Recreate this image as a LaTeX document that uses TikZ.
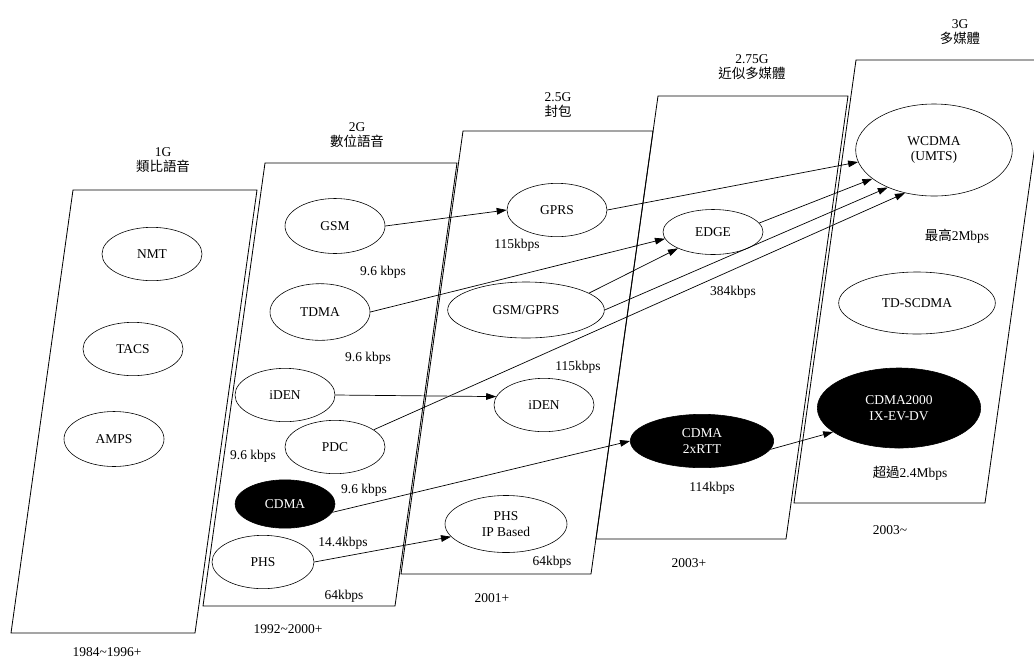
\documentclass[tikz,border=0pt]{standalone}
\usepackage{fontspec}
\setmainfont{Liberation Serif}
\newfontfamily\cjk{Noto Sans CJK TC}
\usetikzlibrary{positioning, shapes.geometric, arrows.meta}

\begin{document}
\begin{tikzpicture}[
  x=0.03cm, y=-0.03cm,
  font=\fontsize{11.5}{13}\selectfont,
  panel/.style={draw, line width=0.7pt},
  net/.style={ellipse, draw, fill=white, line width=0.5pt, inner sep=0pt, align=center,
              minimum width=3cm, minimum height=1.6cm},
  dark/.style={net, fill=black, text=white},
  rate/.style={inner sep=0pt},
  era/.style={align=center, inner sep=0pt},
  link/.style={-{Triangle[length=3mm, width=2mm]}, line width=0.6pt}
]
\useasboundingbox (0,0) rectangle (1034,661);
\clip (0,0) rectangle (1034,661);

% one slanted panel per generation
\foreach \x/\y/\w in {73/190/184, 265/163/192, 463/131/190, 658/96/190, 856/60/191}
  \draw[panel] (\x,\y) -- ++(\w,0) -- ++(-62,443) -- ++(-\w,0) -- cycle;

\node[era] (g1)   at (163,160) {1G\\{\cjk 類比語音}};
\node[era] (g2)   at (357,135) {2G\\{\cjk 數位語音}};
\node[era] (g25)  at (558,105) {2.5G\\{\cjk 封包}};
\node[era] (g275) at (752,67)  {2.75G\\{\cjk 近似多媒體}};
\node[era] (g3)   at (960,32)  {3G\\{\cjk 多媒體}};

\node[rate] (y1)   at (107,652) {1984\textasciitilde1996+};
\node[rate] (y2)   at (288,629) {1992\textasciitilde2000+};
\node[rate] (y25)  at (492,598) {2001+};
\node[rate] (y275) at (689,563) {2003+};
\node[rate] (y3)   at (890,530) {2003\textasciitilde};

% 1G
\node[net] (nmt)  at (152,254) {NMT};
\node[net] (tacs) at (133,349) {TACS};
\node[net, minimum height=1.65cm] (amps) at (114,439) {AMPS};

% 2G
\node[net, minimum height=1.65cm] (gsm) at (335,226) {GSM};
\node[net, minimum height=1.7cm] (tdma) at (320,312) {TDMA};
\node[net] (idenA) at (285,395) {iDEN};
\node[net] (pdc)   at (335,447) {PDC};
\node[dark, minimum height=1.45cm] (cdma) at (285,504) {CDMA};
\node[net, minimum width=3.06cm] (phs) at (263,562) {PHS};

% 2.5G
\node[net] (gprs) at (557,210) {GPRS};
\node[net, minimum width=4.7cm, minimum height=1.68cm] (gsmgprs) at (526,310) {GSM/GPRS};
\node[net] (idenB) at (544,405) {iDEN};
\node[net, minimum width=3.66cm, minimum height=1.71cm] (phsip) at (506,524) {PHS\\IP Based};

% 2.75G
\node[net, minimum height=1.35cm] (edgen) at (713,232) {EDGE};
\node[dark, minimum width=4.3cm] (rtt) at (702,441) {CDMA\\2xRTT};

% 3G
\node[net, minimum width=4.7cm, minimum height=2.76cm] (wcdma) at (934,150) {WCDMA\\(UMTS)};
\node[net, minimum width=4.7cm, minimum height=1.86cm] (tdscdma) at (917,303) {TD-SCDMA};
\node[dark, minimum width=4.9cm, minimum height=2.4cm] (cdmatwo) at (899,408) {CDMA2000\\IX-EV-DV};

% data rates
\node[rate] (r1)  at (383,272) {9.6 kbps};
\node[rate] (r2)  at (368,358) {9.6 kbps};
\node[rate] (r3)  at (253,456) {9.6 kbps};
\node[rate] (r4)  at (364,490) {9.6 kbps};
\node[rate] (r5)  at (343,543) {14.4kbps};
\node[rate] (r6)  at (344,596) {64kbps};
\node[rate] (r7)  at (517,245) {115kbps};
\node[rate] (r8)  at (578,367) {115kbps};
\node[rate] (r9)  at (552,562) {64kbps};
\node[rate] (r10) at (733,292) {384kbps};
\node[rate] (r11) at (712,488) {114kbps};
\node[rate] (r12) at (957,236) {{\cjk 最高}2Mbps};
\node[rate] (r13) at (910,473) {{\cjk 超過}2.4Mbps};

\foreach \a/\b in {gsm.east/gprs.west, tdma.east/edgen.188, idenA.east/idenB.170,
                   pdc.24/wcdma.236, gprs.east/wcdma.189, edgen.11/wcdma.205,
                   gsmgprs.15/edgen.205, gsmgprs.east/wcdma.219, cdma.350/rtt.west,
                   phs.east/phsip.193, rtt.353/cdmatwo.200}
  \draw[link] (\a) -- (\b);

\end{tikzpicture}
\end{document}
